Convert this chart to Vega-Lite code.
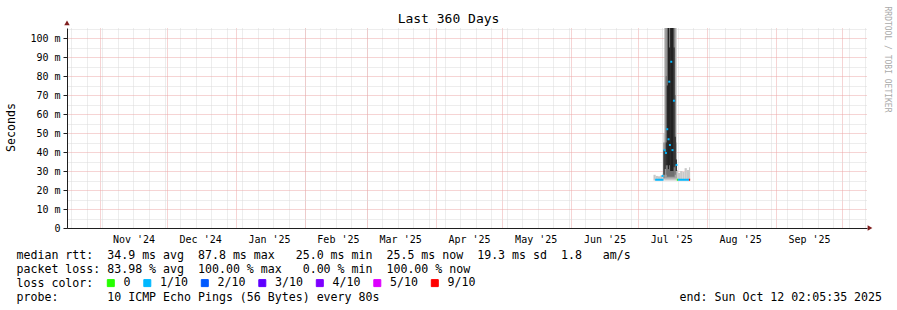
{
  "$schema": "https://vega.github.io/schema/vega-lite/v6.json",
  "width": 800,
  "height": 200,
  "autosize": {"type": "none"},
  "padding": {"left": 67, "top": 28, "right": 30, "bottom": 82},
  "background": "#ffffff",
  "config": {"view": {"stroke": null}, "font": "DejaVu Sans Mono"},
  "title": {"text": "Last 360 Days", "font": "DejaVu Sans Mono", "fontSize": 13, "fontWeight": "normal", "color": "#000000", "anchor": "middle", "frame": "group", "dx": -18.5, "dy": 34, "baseline": "alphabetic", "offset": 4},
  "datasets": {
    "smoke": [
      {"t0": "2025-07-08T00:00:00Z", "t1": "2025-07-09T00:00:00Z", "lo": 25.0, "hi": 28.0, "band": "b1"},
      {"t0": "2025-07-09T00:00:00Z", "t1": "2025-07-10T00:00:00Z", "lo": 25.0, "hi": 27.4, "band": "b1"},
      {"t0": "2025-07-10T00:00:00Z", "t1": "2025-07-11T00:00:00Z", "lo": 25.0, "hi": 27.2, "band": "b1"},
      {"t0": "2025-07-11T00:00:00Z", "t1": "2025-07-12T00:00:00Z", "lo": 25.0, "hi": 27.6, "band": "b1"},
      {"t0": "2025-07-12T00:00:00Z", "t1": "2025-07-12T12:00:00Z", "lo": 25.0, "hi": 28.5, "band": "b1"},
      {"t0": "2025-07-12T12:00:00Z", "t1": "2025-07-13T00:00:00Z", "lo": 25.0, "hi": 50, "band": "b1"},
      {"t0": "2025-07-13T00:00:00Z", "t1": "2025-07-18T12:00:00Z", "lo": 25.0, "hi": 120, "band": "b1"},
      {"t0": "2025-07-18T12:00:00Z", "t1": "2025-07-19T00:00:00Z", "lo": 25.0, "hi": 30.5, "band": "b1"},
      {"t0": "2025-07-19T00:00:00Z", "t1": "2025-07-20T00:00:00Z", "lo": 25.0, "hi": 29.0, "band": "b1"},
      {"t0": "2025-07-20T00:00:00Z", "t1": "2025-07-21T00:00:00Z", "lo": 25.0, "hi": 30.0, "band": "b1"},
      {"t0": "2025-07-21T00:00:00Z", "t1": "2025-07-22T00:00:00Z", "lo": 25.0, "hi": 29.5, "band": "b1"},
      {"t0": "2025-07-22T00:00:00Z", "t1": "2025-07-23T00:00:00Z", "lo": 25.0, "hi": 31.5, "band": "b1"},
      {"t0": "2025-07-23T00:00:00Z", "t1": "2025-07-24T00:00:00Z", "lo": 25.0, "hi": 30.5, "band": "b1"},
      {"t0": "2025-07-24T00:00:00Z", "t1": "2025-07-24T12:00:00Z", "lo": 25.0, "hi": 32.0, "band": "b1"},
      {"t0": "2025-07-13T00:00:00Z", "t1": "2025-07-18T00:00:00Z", "lo": 26, "hi": 120, "band": "b2"},
      {"t0": "2025-07-18T00:00:00Z", "t1": "2025-07-18T12:00:00Z", "lo": 26, "hi": 45, "band": "b2"},
      {"t0": "2025-07-12T12:00:00Z", "t1": "2025-07-13T00:00:00Z", "lo": 26, "hi": 45, "band": "b3"},
      {"t0": "2025-07-13T12:00:00Z", "t1": "2025-07-14T00:00:00Z", "lo": 28, "hi": 80, "band": "b3"},
      {"t0": "2025-07-14T00:00:00Z", "t1": "2025-07-17T12:00:00Z", "lo": 27, "hi": 120, "band": "b3"},
      {"t0": "2025-07-17T12:00:00Z", "t1": "2025-07-18T00:00:00Z", "lo": 28, "hi": 70, "band": "b3"},
      {"t0": "2025-07-12T12:00:00Z", "t1": "2025-07-13T00:00:00Z", "lo": 28, "hi": 41, "band": "b4"},
      {"t0": "2025-07-13T00:00:00Z", "t1": "2025-07-13T12:00:00Z", "lo": 31, "hi": 40, "band": "b4"},
      {"t0": "2025-07-13T12:00:00Z", "t1": "2025-07-14T00:00:00Z", "lo": 33, "hi": 45, "band": "b4"},
      {"t0": "2025-07-14T00:00:00Z", "t1": "2025-07-14T12:00:00Z", "lo": 33, "hi": 75, "band": "b4"},
      {"t0": "2025-07-14T12:00:00Z", "t1": "2025-07-15T00:00:00Z", "lo": 31, "hi": 120, "band": "b4"},
      {"t0": "2025-07-15T00:00:00Z", "t1": "2025-07-15T12:00:00Z", "lo": 33, "hi": 95, "band": "b4"},
      {"t0": "2025-07-15T12:00:00Z", "t1": "2025-07-17T00:00:00Z", "lo": 30, "hi": 120, "band": "b4"},
      {"t0": "2025-07-17T00:00:00Z", "t1": "2025-07-17T12:00:00Z", "lo": 32, "hi": 95, "band": "b4"},
      {"t0": "2025-07-17T12:00:00Z", "t1": "2025-07-18T00:00:00Z", "lo": 33, "hi": 48, "band": "b4"},
      {"t0": "2025-07-18T00:00:00Z", "t1": "2025-07-18T12:00:00Z", "lo": 30, "hi": 36, "band": "b4"}
    ],
    "median": [
      {"t0": "2025-07-08T18:00:00Z", "t1": "2025-07-12T12:00:00Z", "v": 25.4, "loss": "1/10"},
      {"t0": "2025-07-11T15:00:00Z", "t1": "2025-07-12T12:00:00Z", "v": 27.4, "loss": "1/10"},
      {"t0": "2025-07-12T12:30:00Z", "t1": "2025-07-13T10:00:00Z", "v": 41, "loss": "1/10"},
      {"t0": "2025-07-13T04:00:00Z", "t1": "2025-07-14T01:00:00Z", "v": 39.5, "loss": "1/10"},
      {"t0": "2025-07-13T18:00:00Z", "t1": "2025-07-14T15:30:00Z", "v": 52, "loss": "1/10"},
      {"t0": "2025-07-14T07:40:00Z", "t1": "2025-07-15T05:20:00Z", "v": 46.7, "loss": "1/10"},
      {"t0": "2025-07-14T15:40:00Z", "t1": "2025-07-15T13:10:00Z", "v": 77, "loss": "1/10"},
      {"t0": "2025-07-14T22:50:00Z", "t1": "2025-07-15T20:20:00Z", "v": 43.7, "loss": "1/10"},
      {"t0": "2025-07-15T13:10:00Z", "t1": "2025-07-16T10:50:00Z", "v": 87.5, "loss": "1/10"},
      {"t0": "2025-07-16T02:50:00Z", "t1": "2025-07-17T00:30:00Z", "v": 41, "loss": "1/10"},
      {"t0": "2025-07-16T18:00:00Z", "t1": "2025-07-17T15:40:00Z", "v": 67, "loss": "1/10"},
      {"t0": "2025-07-17T22:00:00Z", "t1": "2025-07-18T19:40:00Z", "v": 33.2, "loss": "1/10"},
      {"t0": "2025-07-18T12:00:00Z", "t1": "2025-07-19T00:00:00Z", "v": 25.4, "loss": "0"},
      {"t0": "2025-07-19T00:00:00Z", "t1": "2025-07-24T00:00:00Z", "v": 25.4, "loss": "1/10"},
      {"t0": "2025-07-24T00:00:00Z", "t1": "2025-07-24T12:00:00Z", "v": 25.4, "loss": "9/10"}
    ],
    "arrows": [
      {"t": 1760351375000, "v": 0, "dir": "x"},
      {"t": 1729130735000, "v": 107.9, "dir": "y"}
    ]
  },
  "layer": [
    {
      "data": {"name": "smoke"},
      "mark": {"type": "rect", "clip": true},
      "encoding": {
        "x": {
          "field": "t0", "type": "temporal",
          "scale": {"type": "utc", "domain": [1729130735000, 1760234735000]},
          "axis": {
            "orient": "bottom",
            "values": [1729296000000,1729900800000,1730505600000,1731110400000,1731715200000,1732320000000,1732924800000,1733529600000,1734134400000,1734739200000,1735344000000,1735948800000,1736553600000,1737158400000,1737763200000,1738368000000,1738972800000,1739577600000,1740182400000,1740787200000,1741392000000,1741996800000,1742601600000,1743206400000,1743811200000,1744416000000,1745020800000,1745625600000,1746230400000,1746835200000,1747440000000,1748044800000,1748649600000,1749254400000,1749859200000,1750464000000,1751068800000,1751673600000,1752278400000,1752883200000,1753488000000,1754092800000,1754697600000,1755302400000,1755907200000,1756512000000,1757116800000,1757721600000,1758326400000,1758931200000,1759536000000,1760140800000],
            "grid": true, "gridColor": "#dadada", "gridDash": [1, 1], "gridWidth": 1,
            "labels": false, "ticks": false, "domain": false, "title": null
          }
        },
        "x2": {"field": "t1"},
        "y": {
          "field": "lo", "type": "quantitative",
          "scale": {"domain": [0, 105.2632], "nice": false, "zero": false},
          "axis": {
            "orient": "left",
            "values": [5, 15, 25, 35, 45, 55, 65, 75, 85, 95, 105],
            "grid": true, "gridColor": "#dadada", "gridDash": [1, 1], "gridWidth": 1,
            "labels": false, "ticks": false, "domain": false, "title": null
          }
        },
        "y2": {"field": "hi"},
        "fill": {
          "field": "band", "type": "nominal",
          "scale": {"domain": ["b1", "b2", "b3", "b4"], "range": ["#c8c8c8", "#a0a0a0", "#707070", "#222222"]},
          "legend": null
        }
      }
    },
    {
      "data": {"name": "median"},
      "mark": {"type": "rule", "strokeWidth": 2, "clip": true},
      "encoding": {
        "x": {
          "field": "t0", "type": "temporal",
          "axis": {
            "orient": "bottom",
            "values": [
              {"year": 2024, "month": 11, "date": 1, "utc": true},
              {"year": 2024, "month": 12, "date": 1, "utc": true},
              {"year": 2025, "month": 1, "date": 1, "utc": true},
              {"year": 2025, "month": 2, "date": 1, "utc": true},
              {"year": 2025, "month": 3, "date": 1, "utc": true},
              {"year": 2025, "month": 4, "date": 1, "utc": true},
              {"year": 2025, "month": 5, "date": 1, "utc": true},
              {"year": 2025, "month": 6, "date": 1, "utc": true},
              {"year": 2025, "month": 7, "date": 1, "utc": true},
              {"year": 2025, "month": 8, "date": 1, "utc": true},
              {"year": 2025, "month": 9, "date": 1, "utc": true},
              {"year": 2025, "month": 10, "date": 1, "utc": true}
            ],
            "grid": true, "gridColor": "#eda8a8", "gridDash": [1, 1], "gridWidth": 1,
            "labels": false, "ticks": false, "domain": false, "title": null
          }
        },
        "x2": {"field": "t1"},
        "y": {
          "field": "v", "type": "quantitative",
          "axis": {
            "orient": "left",
            "values": [0, 10, 20, 30, 40, 50, 60, 70, 80, 90, 100],
            "grid": true, "gridColor": "#eda8a8", "gridDash": [1, 1], "gridWidth": 1,
            "ticks": true, "tickSize": 4, "tickColor": "#1f1f1f",
            "domain": true, "domainColor": "#1f1f1f",
            "labelFont": "DejaVu Sans Mono", "labelFontSize": 10, "labelColor": "#000000", "labelPadding": 3,
            "labelExpr": "datum.value == 0 ? '0\u00a0\u00a0' : datum.value + ' m'",
            "title": "Seconds", "titleFont": "DejaVu Sans Mono", "titleFontSize": 11.6, "titleFontWeight": "normal", "titleColor": "#000000",
            "titleAngle": -90, "titleX": -55.5, "titleY": 99, "titleAlign": "center", "titleBaseline": "middle"
          }
        },
        "color": {
          "field": "loss", "type": "nominal",
          "scale": {"domain": ["0", "1/10", "2/10", "3/10", "4/10", "5/10", "9/10"], "range": ["#26ff00", "#00b8ff", "#0059ff", "#5e00ff", "#7e00ff", "#dd00ff", "#ff0000"]},
          "legend": {
            "orient": "none", "legendX": 38, "legendY": 249, "direction": "horizontal",
            "title": null,
            "labelFont": "DejaVu Sans Mono", "labelFontSize": 11.6, "labelColor": "#000000", "labelOffset": 7,
            "columnPadding": 10.5, "padding": 0, "symbolType": "square", "symbolSize": 49,
            "symbolStrokeColor": "#000000", "symbolStrokeWidth": 1,
            "encode": {"symbols": {"update": {"fill": {"scale": "color", "field": "value"}, "stroke": {"value": "#000000"}, "strokeWidth": {"value": 1}, "opacity": {"value": 1}}}}
          }
        }
      }
    },
    {
      "data": {"name": "arrows"},
      "mark": {"type": "point", "filled": true, "size": 30, "color": "#801f1f", "opacity": 1},
      "encoding": {
        "x": {
          "field": "t", "type": "temporal",
          "axis": {
            "orient": "bottom",
            "values": [
              {"year": 2024, "month": 11, "date": 16, "utc": true},
              {"year": 2024, "month": 12, "date": 16, "utc": true},
              {"year": 2025, "month": 1, "date": 16, "utc": true},
              {"year": 2025, "month": 2, "date": 16, "utc": true},
              {"year": 2025, "month": 3, "date": 16, "utc": true},
              {"year": 2025, "month": 4, "date": 16, "utc": true},
              {"year": 2025, "month": 5, "date": 16, "utc": true},
              {"year": 2025, "month": 6, "date": 16, "utc": true},
              {"year": 2025, "month": 7, "date": 16, "utc": true},
              {"year": 2025, "month": 8, "date": 16, "utc": true},
              {"year": 2025, "month": 9, "date": 16, "utc": true}
            ],
            "grid": false, "ticks": false, "tickSize": 0, "domain": true, "domainColor": "#1f1f1f",
            "labelFont": "DejaVu Sans Mono", "labelFontSize": 10, "labelColor": "#000000", "labelBaseline": "alphabetic", "labelPadding": 14,
            "labelFlush": false, "labelOverlap": false,
            "labelExpr": "utcFormat(datum.value, \"%b '%y\")",
            "title": [
              "median rtt:\u00a0\u00a034.9 ms avg\u00a0\u00a087.8 ms max\u00a0\u00a0\u00a025.0 ms min\u00a0\u00a025.5 ms now\u00a0\u00a019.3 ms sd\u00a0\u00a01.8\u00a0\u00a0\u00a0am/s",
              "packet loss: 83.98 % avg\u00a0\u00a0100.00 % max\u00a0\u00a0\u00a00.00 % min\u00a0\u00a0100.00 % now",
              "loss color:",
              "probe:\u00a0\u00a0\u00a0\u00a0\u00a0\u00a0\u00a010 ICMP Echo Pings (56 Bytes) every 80s\u00a0\u00a0\u00a0\u00a0\u00a0\u00a0\u00a0\u00a0\u00a0\u00a0\u00a0\u00a0\u00a0\u00a0\u00a0\u00a0\u00a0\u00a0\u00a0\u00a0\u00a0\u00a0\u00a0\u00a0\u00a0\u00a0\u00a0\u00a0\u00a0\u00a0\u00a0\u00a0\u00a0\u00a0\u00a0\u00a0\u00a0\u00a0\u00a0\u00a0\u00a0\u00a0\u00a0end: Sun Oct 12 02:05:35 2025"
            ],
            "titleFont": "DejaVu Sans Mono", "titleFontSize": 11.6, "titleFontWeight": "normal", "titleColor": "#000000",
            "titleAlign": "left", "titleAnchor": "start", "titleAngle": 0, "titleBaseline": "alphabetic", "titleLineHeight": 14,
            "titleX": -51, "titleY": 30
          }
        },
        "y": {
          "field": "v", "type": "quantitative",
          "axis": {
            "orient": "right", "grid": false, "ticks": false, "labels": false, "domain": false,
            "title": "RRDTOOL / TOBI OETIKER", "titleFont": "DejaVu Sans Mono", "titleFontSize": 8, "titleFontWeight": "normal", "titleColor": "#aaaaaa",
            "titleAngle": 90, "titleX": 19, "titleY": 31, "titleAlign": "center", "titleBaseline": "middle"
          }
        },
        "shape": {
          "field": "dir", "type": "nominal",
          "scale": {"domain": ["x", "y"], "range": ["triangle-right", "triangle-up"]},
          "legend": null
        }
      }
    }
  ],
  "resolve": {"axis": {"x": "independent", "y": "independent"}}
}
